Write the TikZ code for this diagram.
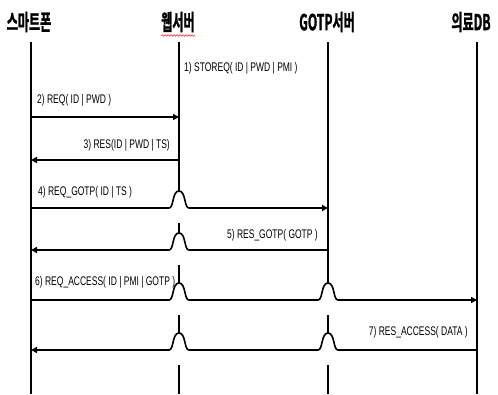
\documentclass[tikz,border=0pt]{standalone}
\usepackage{fontspec}
\usetikzlibrary{arrows.meta,decorations.pathmorphing,calc}
\newfontfamily\hdrfont[FakeStretch=0.55,FakeBold=1.2]{Noto Sans CJK KR Bold}
\newfontfamily\lblfont[FakeStretch=0.68]{Liberation Sans}
\newcommand\hopR[1]{-- ([xshift=-10pt]#1) .. controls ([xshift=-5pt]#1) and ([xshift=-7pt,yshift=17pt]#1) .. ([yshift=17pt]#1) .. controls ([xshift=7pt,yshift=17pt]#1) and ([xshift=5pt]#1) .. ([xshift=10pt]#1)}
\newcommand\hopL[1]{-- ([xshift=10pt]#1) .. controls ([xshift=5pt]#1) and ([xshift=7pt,yshift=17pt]#1) .. ([yshift=17pt]#1) .. controls ([xshift=-7pt,yshift=17pt]#1) and ([xshift=-5pt]#1) .. ([xshift=-10pt]#1)}
\begin{document}
\begin{tikzpicture}[x=1pt,y=-1pt,
  hdr/.style={font=\hdrfont\fontsize{22}{24}\selectfont, inner sep=0pt},
  lbl/.style={font=\lblfont\fontsize{12.5}{14}\selectfont, inner sep=0pt},
  life/.style={line width=1.6pt},
  msg/.style={line width=1.6pt, -{Triangle[length=6pt,width=6pt]}},
  gap/.style={fill=white, draw=none}]
\useasboundingbox (0,0) rectangle (498,394);
% headers
\node[hdr] (sp) at (29,22) {스마트폰};
\node[hdr] (ws) at (178,22) {웹서버};
\node[hdr] (gs) at (327,22) {GOTP서버};
\node[hdr] (db) at (471,22) {의료DB};
\draw[red, line width=0.5pt, decorate, decoration={snake, amplitude=0.8pt, segment length=3pt}] ([yshift=-3pt]ws.south west) -- ([yshift=-3pt]ws.south east);
% lifeline ends
\coordinate (spT) at (31,42); \coordinate (spB) at (31,394);
\coordinate (wsT) at (179,42); \coordinate (wsB) at (179,394);
\coordinate (gsT) at (328,42); \coordinate (gsB) at (328,394);
\coordinate (dbT) at (477,42); \coordinate (dbB) at (477,394);
\draw[life] (spT) -- (spB);
\draw[life] (wsT) -- (wsB);
\draw[life] (gsT) -- (gsB);
\draw[life] (dbT) -- (dbB);
% message points
\foreach \n/\y in {2/117,3/160,4/208,5/250,6/300,7/350}{
  \coordinate (s\n) at (31,\y);
  \coordinate (w\n) at (179,\y);
  \coordinate (g\n) at (328,\y);
  \coordinate (d\n) at (477,\y);
}
% gaps in lifelines under hops
\foreach \c in {w4,w5,w6,w7,g6,g7}{
  \fill[gap] ([xshift=-2.5pt,yshift=16pt]\c) rectangle ([xshift=2.5pt,yshift=-15pt]\c);
}
% messages
\node[lbl, anchor=west] (m1) at (184,68) {1) STOREQ( ID | PWD | PMI )};
\node[lbl, anchor=west] (m2) at (37,100) {2) REQ( ID | PWD )};
\draw[msg] (s2) -- (w2);
\node[lbl, anchor=east] (m3) at (170,145) {3) RES(ID | PWD | TS)};
\draw[msg] (w3) -- (s3);
\node[lbl, anchor=west] (m4) at (38,192) {4) REQ\_GOTP( ID | TS )};
\draw[msg] (s4) \hopR{w4} -- (g4);
\node[lbl, anchor=east] (m5) at (318,235) {5) RES\_GOTP( GOTP )};
\draw[msg] (g5) \hopL{w5} -- (s5);
\node[lbl, anchor=west] (m6) at (35,282) {6) REQ\_ACCESS( ID | PMI | GOTP )};
\draw[msg] (s6) \hopR{w6} \hopR{g6} -- (d6);
\node[lbl, anchor=east] (m7) at (468,332) {7) RES\_ACCESS( DATA )};
\draw[msg] (d7) \hopL{g7} \hopL{w7} -- (s7);
\end{tikzpicture}
\end{document}
